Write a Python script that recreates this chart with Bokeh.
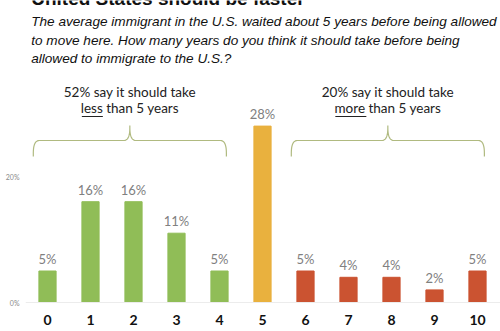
import numpy as np
from bokeh.plotting import figure
from bokeh.layouts import column
from bokeh.models import Label, FixedTicker, Span, Range1d
from bokeh.core.properties import value
from bokeh.embed import file_html
from bokeh.resources import INLINE

# ---- data ----
years = ["0", "1", "2", "3", "4", "5", "6", "7", "8", "9", "10"]
shares = [5, 16, 16, 11, 5, 28, 5, 4, 4, 2, 5]
share_labels = ["5%", "16%", "16%", "11%", "5%", "28%", "5%", "4%", "4%", "2%", "5%"]
groups = ["less"] * 5 + ["equal"] + ["more"] * 5
y_ticks = [0, 20]
y_tick_labels = {0: "0%", 20: "20%"}
title = "United States should be faster"
subtitle = ["The average immigrant in the U.S. waited about 5 years before being allowed",
            "to move here. How many years do you think it should take before being",
            "allowed to immigrate to the U.S.?"]
less_text = ["52% say it should take", "less than 5 years"]
more_text = ["20% say it should take", "more than 5 years"]
x_title = "Years"

colors = {"less": "#90bd57", "equal": "#e9b13e", "more": "#cb5331"}

# ---- layout ----
W = 500
HEAD_H = 70          # header strip (title + question)
LEFT = 25            # y-axis panel width
FRAME_BOTTOM = 305   # page pixel of the chart frame bottom
BOTTOM = 48          # x-axis panel (the axis title falls below the window)
PX_CAT = 43.0
PX_PCT = 6.3
X0_PX = 47.0
BASE_PX = 302.0
LBL_SHIFT = 6        # Label baseline correction

def xd(px):
    return (px - X0_PX) / PX_CAT

def yd(py):
    return (BASE_PX - py) / PX_PCT

# ---------------- header ----------------
head = figure(width=W, height=HEAD_H, output_backend="svg", toolbar_location=None,
              x_axis_location=None, y_axis_location=None,
              min_border_left=0, min_border_right=0, min_border_top=0, min_border_bottom=0,
              x_range=Range1d(0, W), y_range=Range1d(HEAD_H, 0))
head.outline_line_color = None
head.grid.visible = False

head.add_layout(Label(x=6, y=4 - LBL_SHIFT, text=title, text_font="Liberation Sans",
                      text_font_style="bold", text_font_size="19px", text_color="#111111",
                      text_baseline="alphabetic"))
for yb, line in zip([26.7, 46.0, 64.3], subtitle):
    head.add_layout(Label(x=6, y=yb - LBL_SHIFT, text=line, text_font="Liberation Sans",
                          text_font_style="italic", text_font_size="13.6px",
                          text_color="#111111", text_baseline="alphabetic"))

# ---------------- chart ----------------
xs = np.arange(len(years))
chart_h = FRAME_BOTTOM - HEAD_H + BOTTOM
p = figure(width=W, height=chart_h, output_backend="svg", toolbar_location=None,
           min_border_left=LEFT, min_border_right=0, min_border_top=0,
           min_border_bottom=BOTTOM,
           x_range=Range1d(xd(LEFT), xd(W)),
           y_range=Range1d(yd(FRAME_BOTTOM), yd(HEAD_H)))
p.outline_line_color = None
p.grid.visible = False

p.vbar(x=xs, top=shares, width=0.4, color=[colors[g] for g in groups])

p.text(x=xs, y=shares, text=share_labels, text_align="center", text_baseline="bottom",
       y_offset=-4, text_font=value("Lato"), text_font_size="13px", text_color="#808080")

p.add_layout(Span(location=0, dimension="width", line_color="#ececec", line_width=1))

# axes
p.xaxis.ticker = FixedTicker(ticks=list(xs))
p.xaxis.major_label_overrides = {int(i): s for i, s in zip(xs, years)}
p.xaxis.axis_line_color = None
p.xaxis.major_tick_line_color = None
p.xaxis.minor_tick_line_color = None
p.xaxis.major_tick_out = 0
p.xaxis.major_tick_in = 0
p.xaxis.minor_tick_out = 0
p.xaxis.major_label_standoff = 9
p.xaxis.major_label_text_font = "Lato"
p.xaxis.major_label_text_font_style = "bold"
p.xaxis.major_label_text_font_size = "14px"
p.xaxis.major_label_text_color = "#111111"
p.xaxis.axis_label = x_title
p.xaxis.axis_label_standoff = 0
p.xaxis.axis_label_text_font = "Lato"
p.xaxis.axis_label_text_font_style = "normal"
p.xaxis.axis_label_text_font_size = "12px"
p.xaxis.axis_label_text_color = "#444444"

p.yaxis.ticker = FixedTicker(ticks=y_ticks)
p.yaxis.major_label_overrides = y_tick_labels
p.yaxis.axis_line_color = None
p.yaxis.major_tick_line_color = None
p.yaxis.minor_tick_line_color = None
p.yaxis.major_tick_out = 0
p.yaxis.major_tick_in = 0
p.yaxis.minor_tick_out = 0
p.yaxis.major_label_standoff = 6
p.yaxis.major_label_text_font = "Lato"
p.yaxis.major_label_text_font_size = "7px"
p.yaxis.major_label_text_color = "#8a8a8a"

# braces and group annotations
brace_color = "#b0ba80"

def brace(first, last):
    x_s, x_e = first - 0.33, last + 0.16
    m = (x_s + x_e) / 2
    yb, yh, yt = yd(156), yd(140), yd(125)
    rx, ry = 0.14, 2.0
    t = np.linspace(0, 1, 12)

    def quad(p0, c, p1):
        return ((1 - t) ** 2 * p0[0] + 2 * (1 - t) * t * c[0] + t ** 2 * p1[0],
                (1 - t) ** 2 * p0[1] + 2 * (1 - t) * t * c[1] + t ** 2 * p1[1])

    X, Y = [x_s], [yb]
    for a, b in [quad((x_s, yh - ry), (x_s, yh), (x_s + rx, yh)),
                 quad((m - rx, yh), (m, yh), (m, yh + ry))]:
        X += list(a); Y += list(b)
    X.append(m); Y.append(yt)
    for a, b in [quad((m, yh + ry), (m, yh), (m + rx, yh)),
                 quad((x_e - rx, yh), (x_e, yh), (x_e, yh - ry))]:
        X += list(a); Y += list(b)
    X.append(x_e); Y.append(yb)
    p.line(X, Y, line_color=brace_color, line_width=1.2)
    return m

less_idx = [i for i, g in enumerate(groups) if g == "less"]
more_idx = [i for i, g in enumerate(groups) if g == "more"]
m1 = brace(less_idx[0], less_idx[-1])
m2 = brace(more_idx[0], more_idx[-1])

for m, lines in [(m1, less_text), (m2, more_text)]:
    p.add_layout(Label(x=m, y=yd(97 - LBL_SHIFT), text=lines[0], text_font="Lato",
                       text_font_size="13.5px", text_color="#222222", text_align="center",
                       text_baseline="alphabetic"))
    p.add_layout(Label(x=m, y=yd(113.5 - LBL_SHIFT), text=lines[1], text_font="Lato",
                       text_font_size="13.5px", text_color="#222222", text_align="center",
                       text_baseline="alphabetic"))

# underlines of "less" and "more" (pixel offsets from the brace centre)
u0 = [m1 - 48 / PX_CAT, m2 - 52.5 / PX_CAT]
u1 = [m1 - 27 / PX_CAT, m2 - 21.5 / PX_CAT]
p.segment(x0=u0, y0=[yd(116)] * 2, x1=u1, y1=[yd(116)] * 2,
          line_color="#222222", line_width=1)

layout = column(head, p, spacing=0)
open("out.html", "w").write(file_html(layout, INLINE))
